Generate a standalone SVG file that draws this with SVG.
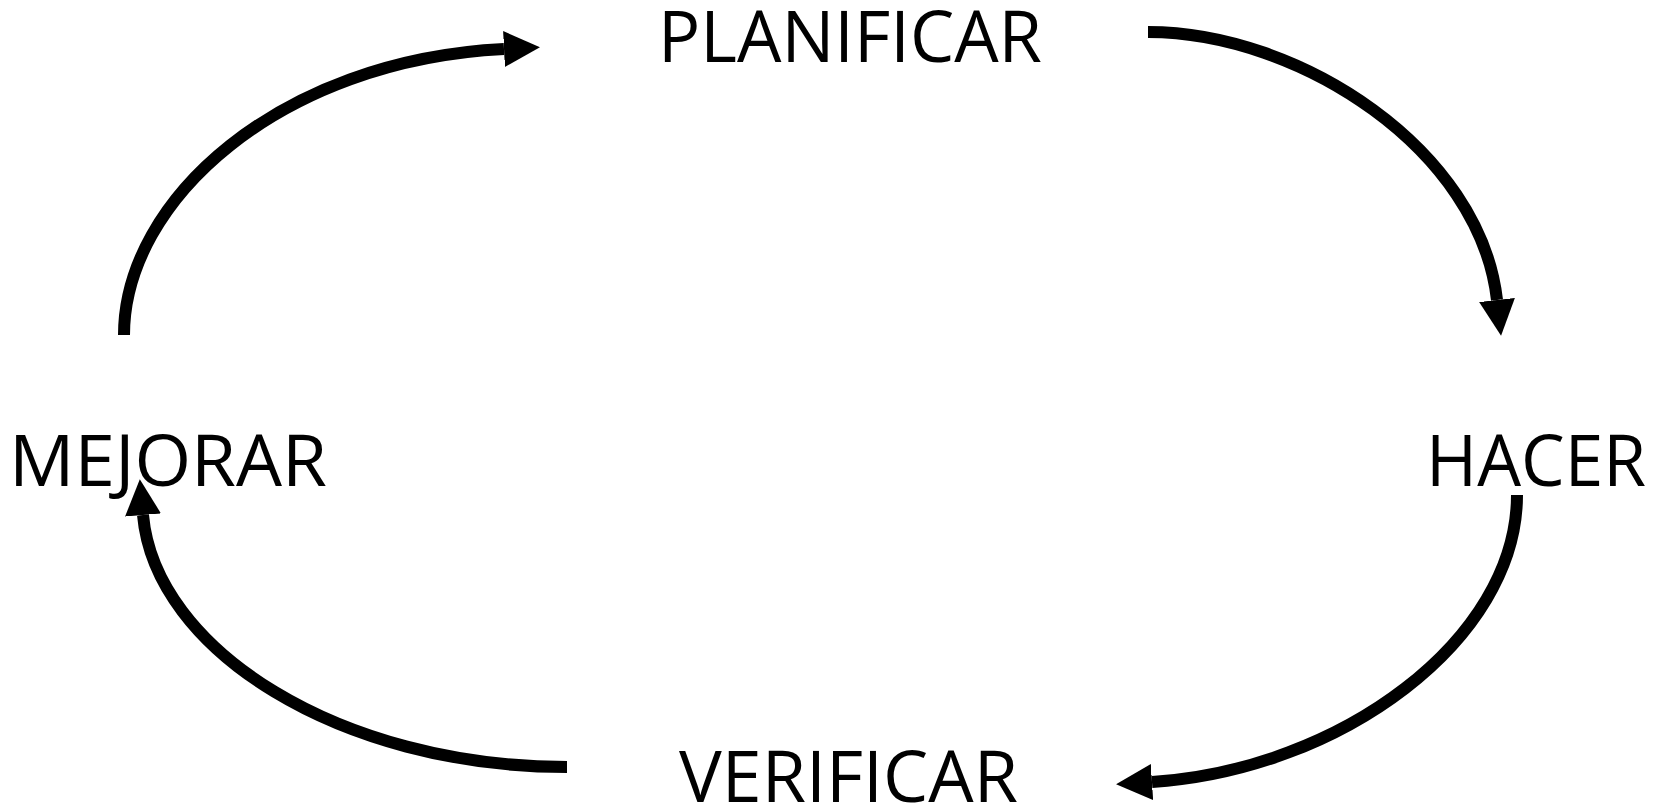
<svg xmlns="http://www.w3.org/2000/svg" width="1663" height="807" viewBox="0 0 1663 807">
  <style>
    .label { font-family: "Open Sans", Lato, "Liberation Sans", sans-serif; font-size: 71px; fill: #000; }
    .cycle { fill: none; stroke: #000; stroke-width: 12; marker-end: url(#head); }
  </style>
  <defs>
    <marker id="head" markerUnits="userSpaceOnUse" markerWidth="40" markerHeight="40" viewBox="0 -20 40 40" refX="0" refY="0" orient="auto">
      <path d="M0,-18 L36,0 L0,18 Z" fill="#000"/>
    </marker>
  </defs>
  <rect width="1663" height="807" fill="#fff"/>

  <g id="planificar">
    <text class="label" x="658" y="62" textLength="384" lengthAdjust="spacingAndGlyphs">PLANIFICAR</text>
  </g>
  <g id="hacer">
    <text class="label" x="1426" y="486" textLength="220" lengthAdjust="spacingAndGlyphs">HACER</text>
  </g>
  <g id="verificar">
    <text class="label" x="679" y="802" textLength="339" lengthAdjust="spacingAndGlyphs">VERIFICAR</text>
  </g>
  <g id="mejorar">
    <text class="label" x="9" y="486" textLength="318" lengthAdjust="spacingAndGlyphs">MEJORAR</text>
  </g>

  <!-- PDCA cycle arrows, clockwise -->
  <g id="connectors">
    <path class="cycle" d="M124,335 C124,200 280,60 504,49"/>
    <path class="cycle" d="M1148,32 C1300,32 1480,150 1497,300"/>
    <path class="cycle" d="M1517,495 C1517,640 1340,770 1152,782"/>
    <path class="cycle" d="M567,767 C340,767 155,650 143,515"/>
  </g>
</svg>
